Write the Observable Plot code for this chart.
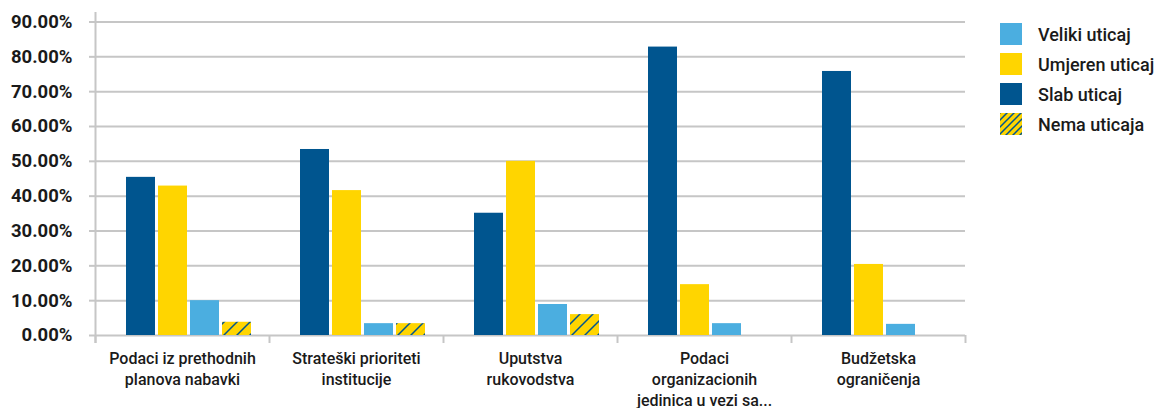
<!DOCTYPE html>
<html>
<head>
<meta charset="utf-8">
<script src="https://cdn.jsdelivr.net/npm/d3@7"></script>
<script src="https://cdn.jsdelivr.net/npm/@observablehq/plot@0.6"></script>
<style>
  html, body { margin: 0; padding: 0; background: #fff; }
  #wrap { position: relative; width: 1161px; height: 408px; font-family: Roboto, "Noto Sans", sans-serif; }
  #legend { position: absolute; left: 1000px; top: 19px; }
  .lg-row { display: flex; align-items: center; height: 30px; }
  .lg-row .sw { width: 22px; height: 22px; margin-right: 16px; flex: none; }
  .lg-row span { font-size: 18px; font-weight: 500; color: #1a1a1a; white-space: nowrap; }
</style>
</head>
<body>
<div id="wrap"><div id="legend"></div></div>
<script>
// ---- data ----
const categories = [
  "Podaci iz prethodnih planova nabavki",
  "Strateški prioriteti institucije",
  "Uputstva rukovodstva",
  "Podaci organizacionih jedinica u vezi sa...",
  "Budžetska ograničenja"
];
const categoryLabels = [
  "Podaci iz prethodnih\nplanova nabavki",
  "Strateški prioriteti\ninstitucije",
  "Uputstva\nrukovodstva",
  "Podaci\norganizacionih\njedinica u vezi sa...",
  "Budžetska\nograničenja"
];
const barOrder = ["Slab uticaj", "Umjeren uticaj", "Veliki uticaj", "Nema uticaja"];
const legendOrder = ["Veliki uticaj", "Umjeren uticaj", "Slab uticaj", "Nema uticaja"];
const slab    = [45.4, 53.4, 35.1, 82.8, 75.8];
const umjeren = [42.9, 41.6, 50.0, 14.6, 20.4];
const veliki  = [10.0,  3.4,  8.9,  3.4,  3.2];
const nema    = [ 3.8,  3.4,  6.0,  0.0,  0.0];
const yTicks  = [0, 10, 20, 30, 40, 50, 60, 70, 80, 90];

// ---- styles ----
const colors = {
  "Slab uticaj": "#00558f",
  "Umjeren uticaj": "#ffd500",
  "Veliki uticaj": "#4baee0",
  "Nema uticaja": "url(#hatch)"
};
const gridColor = "#c6c6c6";
const textColor = "#1a1a1a";

const seriesValues = {
  "Slab uticaj": slab, "Umjeren uticaj": umjeren, "Veliki uticaj": veliki, "Nema uticaja": nema
};
const rows = [];
categories.forEach((c, i) => barOrder.forEach(s => rows.push({cat: c, series: s, value: seriesValues[s][i]})));
const labelOf = new Map(categories.map((c, i) => [c, categoryLabels[i]]));

const W = 1161, H = 408, ML = 95, MR = 196, MT = 21.5, MB = 73;
const facetW = (W - ML - MR) / categories.length;
const plotH = H - MT - MB;

const chart = Plot.plot({
  width: W, height: H,
  marginLeft: ML, marginRight: MR, marginTop: MT, marginBottom: MB,
  style: {fontFamily: "Roboto, 'Noto Sans', sans-serif", color: textColor, background: "transparent", overflow: "visible"},
  fx: {domain: categories, padding: 0, label: null},
  x: {domain: barOrder, paddingInner: 0.1, paddingOuter: 0.69, align: 0.64, axis: null},
  y: {domain: [0, 90], label: null},
  color: {domain: barOrder, range: barOrder.map(s => colors[s])},
  marks: [
    Plot.gridY(yTicks, {stroke: gridColor, strokeOpacity: 1, strokeWidth: 2}),
    Plot.axisY(yTicks, {
      tickSize: 6, tickPadding: 17, stroke: gridColor, strokeWidth: 2,
      tickFormat: d => d.toFixed(2) + "%", fontSize: 18.5, fontWeight: 700, fill: textColor, label: null
    }),
    Plot.axisFx({
      anchor: "bottom", tickSize: 0, tickPadding: 14, label: null,
      tickFormat: d => labelOf.get(d), fontSize: 16, fontWeight: 500, lineHeight: 1.3, fill: textColor
    }),
    Plot.barY(rows, {fx: "cat", x: "series", y: "value", fill: "series"}),
    // category boundary ticks
    Plot.ruleX(categories, {fx: d => d, x: null, dx: -facetW / 2, insetTop: plotH, insetBottom: -8, stroke: gridColor, strokeWidth: 2}),
    Plot.ruleX([categories[categories.length - 1]], {fx: d => d, x: null, dx: facetW / 2, insetTop: plotH, insetBottom: -8, stroke: gridColor, strokeWidth: 2}),
    // vertical value axis line
    Plot.ruleX([categories[0]], {fx: d => d, x: null, dx: -facetW / 2, insetTop: -9.5, insetBottom: -8, stroke: gridColor, strokeWidth: 2})
  ]
});

// hatch pattern definitions
function addPattern(svgSel, id, size) {
  let defs = svgSel.select("defs");
  if (defs.empty()) defs = svgSel.insert("defs", ":first-child");
  const p = defs.append("pattern").attr("id", id).attr("patternUnits", "userSpaceOnUse")
    .attr("width", size).attr("height", size);
  p.append("rect").attr("width", size).attr("height", size).attr("fill", colors["Umjeren uticaj"]);
  p.append("path").attr("d", `M-1,1 l2,-2 M0,${size} l${size},${-size} M${size - 1},${size + 1} l2,-2`)
    .attr("stroke", colors["Slab uticaj"]).attr("stroke-width", 1.5);
}
addPattern(d3.select(chart), "hatch", 13);
document.getElementById("wrap").prepend(chart);

// legend
const legend = d3.select("#legend");
legendOrder.forEach(s => {
  const row = legend.append("div").attr("class", "lg-row");
  const sw = row.append("svg").attr("class", "sw").attr("width", 22).attr("height", 22);
  if (s === "Nema uticaja") {
    addPattern(sw, "hatchSmall", 7);
    sw.append("rect").attr("width", 22).attr("height", 22).attr("fill", "url(#hatchSmall)");
  } else {
    sw.append("rect").attr("width", 22).attr("height", 22).attr("fill", colors[s]);
  }
  row.append("span").text(s);
});
</script>
</body>
</html>
